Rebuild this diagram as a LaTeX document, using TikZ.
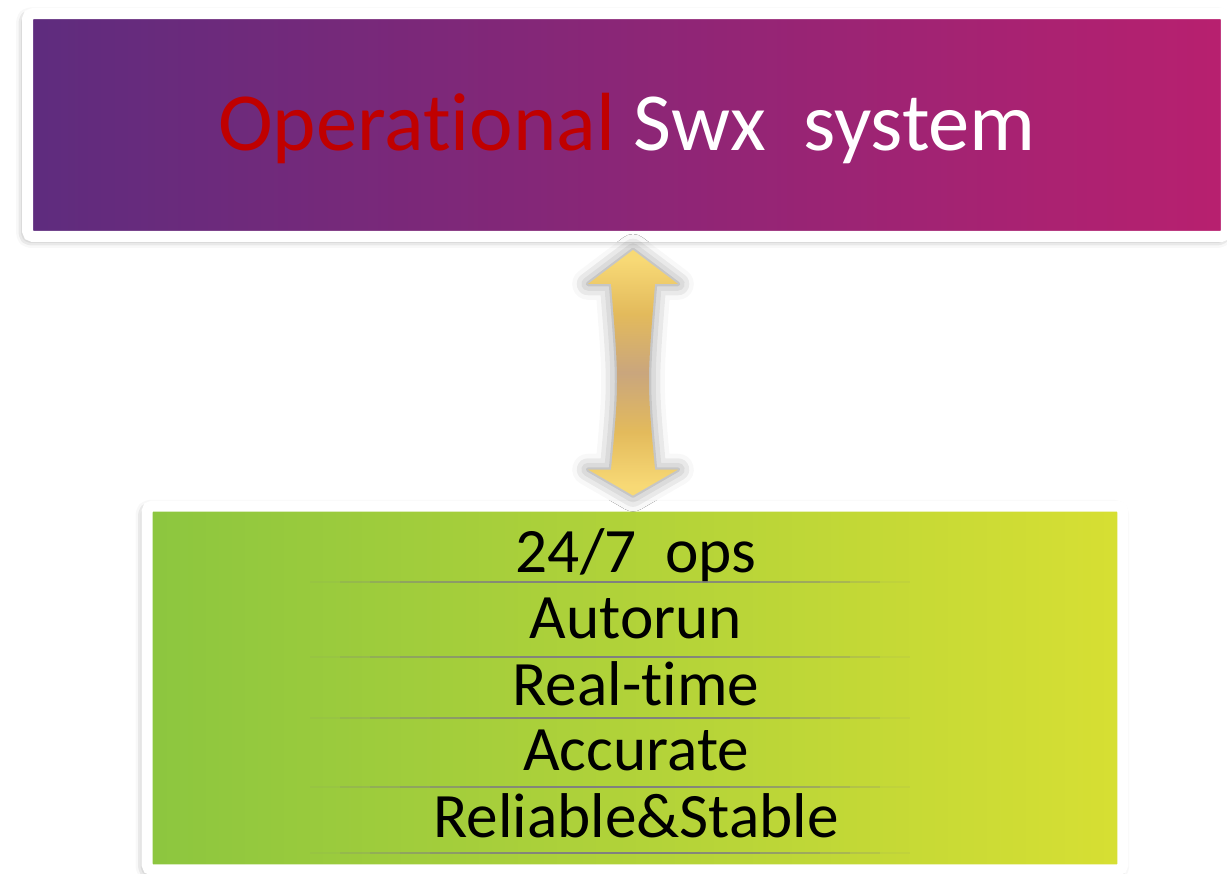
\documentclass[tikz,border=0pt]{standalone}
\usepackage{fontspec}
\setmainfont{Carlito}[Ligatures=NoCommon]
\usetikzlibrary{shadows.blur, calc}

\definecolor{SwxPurple}{HTML}{5E2C7E}
\definecolor{SwxMagenta}{HTML}{B8206F}
\definecolor{SwxRed}{HTML}{C00000}
\definecolor{OpsGreen}{HTML}{8CC63F}
\definecolor{OpsLime}{HTML}{D7DF33}

\pgfdeclareverticalshading{goldbar}{100bp}{
    rgb(0bp)=(0.97,0.85,0.46); rgb(27bp)=(0.97,0.85,0.46); rgb(38bp)=(0.89,0.73,0.36);
    rgb(50bp)=(0.79,0.65,0.49); rgb(62bp)=(0.89,0.73,0.36); rgb(73bp)=(0.97,0.85,0.46);
    rgb(100bp)=(0.97,0.85,0.46)}

\begin{document}
\begin{tikzpicture}[x=0.02cm, y=-0.02cm,
    framebox/.style={draw=white, line width=0.22cm, rounded corners=3pt,
        blur shadow={shadow xshift=-1.5pt, shadow yshift=-1.5pt, shadow blur radius=5pt, shadow opacity=45}},
    item/.style={anchor=base, font=\fontsize{36}{42}\selectfont, text=black, inner sep=0pt},
    sep/.style={draw=black!50, line width=0.8pt}]
    \useasboundingbox (0,0) rectangle (1227,873);

    % top box
    \node[framebox, left color=SwxPurple, right color=SwxMagenta, minimum width=23.98cm, minimum height=4.46cm] (ops) at (627,125) {};
    \node[anchor=base, font=\fontsize{47}{56}\selectfont, inner sep=0pt] (title) at (627,150)
        {\textcolor{SwxRed}{Operational} \textcolor{white}{Swx\ \ system}};

    % bottom box
    \node[framebox, left color=OpsGreen, right color=OpsLime, minimum width=19.52cm, minimum height=7.28cm] (props) at (635,688) {};

    \node[item] (ops247) at (636,572) {24/7\ \ ops};
    \node[item] (autorun) at (636,638) {Autorun};
    \node[item] (realtime) at (636,705) {Real-time};
    \node[item] (accurate) at (636,770) {Accurate};
    \node[item] (reliable) at (636,837) {Reliable\&Stable};

    % faded separators
    \foreach \y in {582,657,718,787,853}
        \foreach \i in {0,...,19}
            \draw[sep, opacity={sin(\i*9+4.5)}] (310+\i*30,\y) -- ++(30,0);

    % double arrow
    \coordinate (top) at ($(ops.south)+(6,8)$);
    \coordinate (bot) at ($(props.north)+(-2,-5)$);
    \shade[shading=goldbar,
        blur shadow={shadow xshift=0pt, shadow yshift=0pt, shadow blur radius=9pt, shadow opacity=45}]
        (top) -- ++(45,34) -- ++(-23,0)
        .. controls ($(top)+(14,133)$) .. ($(bot)+(22,-26)$)
        -- ++(23,0) -- (bot) -- ++(-45,-26) -- ++(23,0)
        .. controls ($(top)+(-14,133)$) .. ($(top)+(-22,34)$)
        -- ++(-23,0) -- cycle;
\end{tikzpicture}
\end{document}
